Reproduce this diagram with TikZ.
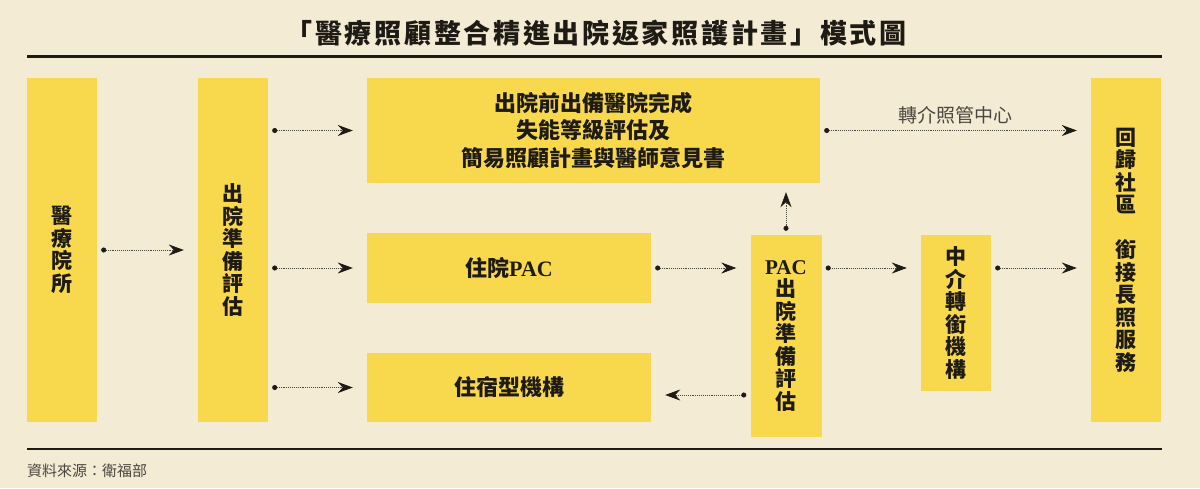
\documentclass[tikz,border=0pt]{standalone}
\usepackage{fontspec}
\newfontfamily\cjk{Noto Sans CJK TC}
\newfontfamily\cjktitle{Noto Sans CJK TC}[LetterSpace=10]
\newfontfamily\lserif{Liberation Serif}
\usetikzlibrary{arrows.meta}
\definecolor{bgc}{HTML}{F4EBD4}
\definecolor{boxc}{HTML}{F8D94E}
\definecolor{ink}{HTML}{1E1A14}
\definecolor{dotc}{HTML}{4A4640}
\tikzset{
  box/.style={rectangle, fill=boxc, draw=none, inner sep=0pt, align=center, text=ink,
    font=\cjk\bfseries\fontsize{21}{22.5}\selectfont},
  hbox/.style={box, font=\cjk\bfseries\fontsize{22}{27.5}\selectfont},
  flow/.style={draw=dotc, line width=0.8pt, dash pattern=on 0.8pt off 1.1pt,
    {Circle[length=5pt,width=5pt,fill=ink,color=ink]}-{Stealth[length=15pt,width=11pt,inset=5pt,color=ink]},
    shorten <=4pt, shorten >=14pt},
}
\begin{document}
\begin{tikzpicture}[x=1pt,y=-1pt]
\useasboundingbox (0,0) rectangle (1200,488);
\fill[bgc] (0,0) rectangle (1200,488);
% title
\node[font=\cjktitle\bfseries\fontsize{27}{30}\selectfont, text=ink] (title) at (596,33) {「醫療照顧整合精進出院返家照護計畫」模式圖};
\draw[ink, line width=3pt] (27,56) -- (1162,56);
\draw[ink, line width=2.5pt] (27,449) -- (1162,449);
\node[anchor=west, font=\cjk\fontsize{15}{18}\selectfont, text=dotc, inner sep=0pt] (src) at (27,471) {資料來源：衛福部};
% boxes
\node[box, minimum width=70pt, minimum height=344pt] (hosp) at (62,250) {醫\\療\\院\\所};
\node[box, minimum width=70pt, minimum height=344pt] (prep) at (233,250) {出\\院\\準\\備\\評\\估};
\node[hbox, minimum width=453pt, minimum height=105pt] (top) at (593.5,130.5) {出院前出備醫院完成\\失能等級評估及\\簡易照顧計畫與醫師意見書};
\node[hbox, minimum width=284pt, minimum height=70pt] (pacin) at (509,268) {住院{\lserif PAC}};
\node[hbox, minimum width=284pt, minimum height=69pt] (res) at (509,387.5) {住宿型機構};
\node[box, minimum width=71pt, minimum height=202pt] (pac) at (786,336) {{\lserif PAC}\\出\\院\\準\\備\\評\\估};
\node[box, minimum width=70pt, minimum height=156pt] (mid) at (956,313) {中\\介\\轉\\銜\\機\\構};
\node[box, minimum width=70pt, minimum height=344pt] (home) at (1126,250) {回\\歸\\社\\區\\ \\銜\\接\\長\\照\\服\\務};
% connectors
\draw[flow] (hosp.east) -- (prep.west);
\draw[flow] (prep.east |- top.west) -- (top.west);
\draw[flow] (prep.east |- pacin.west) -- (pacin.west);
\draw[flow] (prep.east |- res.west) -- (res.west);
\draw[flow] (pacin.east) -- (pacin.east -| pac.west);
\draw[flow] (pac.east |- pacin.east) -- (mid.west |- pacin.east);
\draw[flow] (mid.east |- pacin.east) -- (home.west |- pacin.east);
\draw[flow, shorten >=9pt] (pac.north) -- (pac.north |- top.south);
\coordinate (lowy) at (0,395);
\draw[flow] (pac.west |- lowy) -- (res.east |- lowy);
\draw[flow] (top.east) -- node[above=3pt, font=\cjk\fontsize{19}{21}\selectfont, text=dotc] (lbl) {轉介照管中心} (top.east -| home.west);
\end{tikzpicture}
\end{document}
